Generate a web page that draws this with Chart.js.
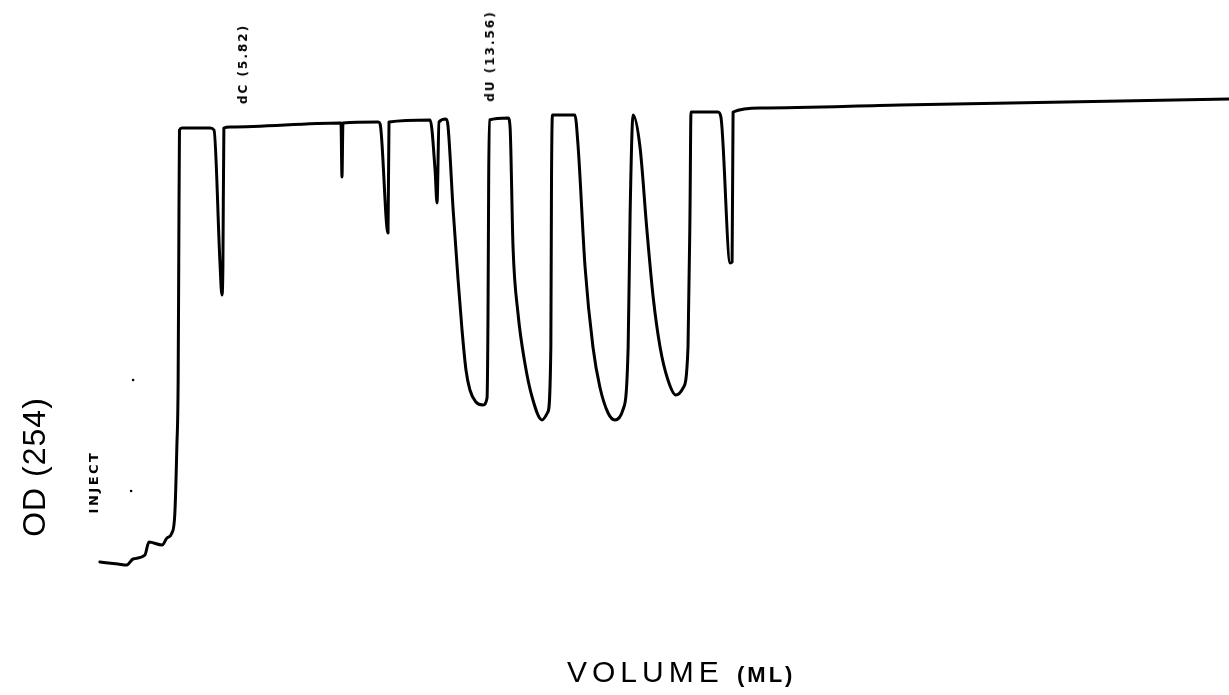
<!DOCTYPE html>
<html>
<head>
<meta charset="utf-8">
<script src="https://cdn.jsdelivr.net/npm/chart.js@4.4.1/dist/chart.umd.min.js"></script>
<style>
    html, body { margin: 0; padding: 0; background: #fff; }
    #wrap { position: relative; width: 1229px; height: 695px; overflow: hidden; }
    #wrap canvas { position: absolute; left: 0; top: 0; }
    .lbl { position: absolute; white-space: nowrap; line-height: 1; color: #000;
           transform: translate(-50%, -50%) rotate(-90deg); }
    .od { font-family: "Liberation Sans", Arial, sans-serif; font-size: 32px; letter-spacing: 1px; }
    .tag { font-family: "DejaVu Sans", sans-serif; font-weight: bold; font-size: 12px; letter-spacing: 2px; }
    .inject { font-family: "DejaVu Sans", sans-serif; font-weight: bold; font-size: 13px; letter-spacing: 2.5px; }
    .xlab { position: absolute; white-space: nowrap; line-height: 1; color: #000;
            font-family: "Liberation Sans", Arial, sans-serif; font-size: 30px; letter-spacing: 5px; }
    .xlab small { font-size: 22px; letter-spacing: 3px; font-weight: bold; }
</style>
</head>
<body>
<div id="wrap">
    <canvas id="trace" width="1229" height="695"></canvas>
    <div class="lbl od" style="left:34px; top:467px;">OD (254)</div>
    <div class="lbl inject" style="left:93px; top:482px;">INJECT</div>
    <div class="lbl tag" style="left:243px; top:64px;">dC (5.82)</div>
    <div class="lbl tag" style="left:490px; top:56px;">dU (13.56)</div>
    <div class="xlab" style="left:567px; top:657px;">VOLUME <small>(ML)</small></div>
</div>
<script>
// elution volume (ml) and absorbance
var volume = [
    1.82, 2.37, 2.64, 2.83, 3.19, 3.31, 3.71, 3.86, 4.01, 4.10,
    4.16, 4.20, 4.22, 4.24, 4.32, 5.17, 5.29, 5.47, 5.53, 5.56,
    5.59, 5.78, 9.12, 9.15, 9.18, 9.21, 10.28, 10.34, 10.58, 10.61,
    11.86, 12.01, 12.07, 12.13, 12.34, 12.40, 12.56, 12.71, 12.83, 12.95,
    13.07, 13.25, 13.47, 13.59, 13.62, 13.64, 13.66, 14.23, 14.29, 14.38,
    14.53, 14.74, 14.96, 15.26, 15.44, 15.53, 15.55, 15.58, 16.26, 16.36,
    16.57, 16.81, 17.02, 17.27, 17.48, 17.72, 17.88, 17.94, 18.03, 18.24,
    18.45, 18.64, 18.85, 19.09, 19.33, 19.55, 19.70, 19.76, 19.79, 20.61,
    20.70, 20.98, 21.04, 21.07, 21.89, 26.14, 36.15
];
var absorbance = [
    0.076, 0.072, 0.070, 0.082, 0.090, 0.116, 0.110, 0.124, 0.134, 0.174,
    0.306, 0.440, 0.706, 0.940, 0.944, 0.944, 0.940, 0.676, 0.610, 0.666,
    0.944, 0.946, 0.954, 0.954, 0.846, 0.954, 0.956, 0.952, 0.734, 0.956,
    0.960, 0.860, 0.794, 0.956, 0.962, 0.950, 0.780, 0.640, 0.540, 0.460,
    0.420, 0.396, 0.390, 0.404, 0.574, 0.840, 0.960, 0.964, 0.946, 0.706,
    0.574, 0.474, 0.406, 0.360, 0.376, 0.506, 0.840, 0.970, 0.970, 0.906,
    0.666, 0.506, 0.426, 0.374, 0.360, 0.380, 0.506, 0.774, 0.970, 0.906,
    0.740, 0.606, 0.506, 0.440, 0.410, 0.424, 0.506, 0.774, 0.976, 0.976,
    0.966, 0.674, 0.676, 0.976, 0.984, 0.990, 1.002
];
// two stray specks on the chart paper
var speckVolume = [2.83, 2.77];
var speckAbsorbance = [0.440, 0.218];

var volumeRange = [-1.216, 36.146];
var absorbanceRange = [-0.19, 1.2];

function toPoints(xs, ys) {
    var pts = [];
    for (var i = 0; i < xs.length; i++) {
        pts.push({x: xs[i], y: ys[i]});
    }
    return pts;
}

var ctx = document.getElementById('trace').getContext('2d');
new Chart(ctx, {
    type: 'line',
    data: {
        datasets: [
            {
                label: 'OD 254',
                data: toPoints(volume, absorbance),
                borderColor: '#000',
                borderWidth: 3,
                borderJoinStyle: 'round',
                borderCapStyle: 'round',
                pointRadius: 0,
                cubicInterpolationMode: 'monotone',
                fill: false
            },
            {
                label: 'specks',
                type: 'scatter',
                data: toPoints(speckVolume, speckAbsorbance),
                backgroundColor: '#000',
                borderWidth: 0,
                pointRadius: 1.3
            }
        ]
    },
    options: {
        responsive: false,
        animation: false,
        layout: { padding: 0, autoPadding: false },
        plugins: { legend: { display: false }, tooltip: { enabled: false } },
        scales: {
            x: { type: 'linear', min: volumeRange[0], max: volumeRange[1], display: false },
            y: { min: absorbanceRange[0], max: absorbanceRange[1], display: false }
        }
    }
});
</script>
</body>
</html>
